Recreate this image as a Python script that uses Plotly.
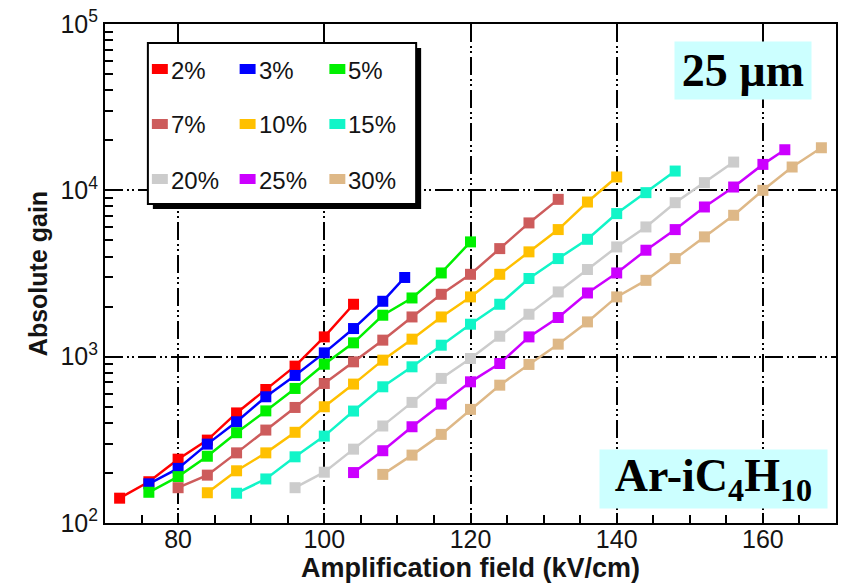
import plotly.graph_objects as go

# ---- data: absolute gain vs amplification field, Ar-iC4H10 mixtures, 25 um gap ----
labels = ["2%", "3%", "5%", "7%", "10%", "15%", "20%", "25%", "30%"]
colors = ["#ff0000", "#0000ff", "#00f000", "#cd5c5c", "#ffc000",
          "#11f5c8", "#cccccc", "#cc00ff", "#deb887"]

field_2 = [72, 76, 80, 84, 88, 92, 96, 100, 104]
gain_2 = [141, 177, 242, 315, 459, 635, 877, 1315, 2065]

field_3 = [76, 80, 84, 88, 92, 96, 100, 104, 108, 111]
gain_3 = [172, 213, 298, 406, 574, 771, 1054, 1476, 2153, 2993]

field_5 = [76, 80, 84, 88, 92, 96, 100, 104, 108, 112, 116, 120]
gain_5 = [153, 190, 252, 349, 472, 644, 901, 1211, 1775, 2254, 3186, 4898]

field_7 = [80, 84, 88, 92, 96, 100, 104, 108, 112, 116, 120, 124, 128, 132]
gain_7 = [163, 194, 264, 362, 495, 690, 931, 1257, 1733, 2371, 3127, 4463, 6369, 8827]

field_10 = [84, 88, 92, 96, 100, 104, 108, 112, 116, 120, 124, 128, 132, 136, 140]
gain_10 = [152, 206, 264, 351, 500, 684, 953, 1274, 1733, 2287, 3127, 4267, 5808, 8505, 12030]

field_15 = [88, 92, 96, 100, 104, 108, 112, 116, 120, 124, 128, 132, 136, 140, 144, 148]
gain_15 = [151, 184, 250, 333, 471, 659, 869, 1172, 1567, 2066, 2950, 3888, 5078, 7246, 9684, 13060]

field_20 = [96, 100, 104, 108, 112, 116, 120, 124, 128, 132, 136, 140, 144, 148, 152, 156]
gain_20 = [163, 202, 278, 383, 531, 740, 975, 1327, 1799, 2450, 3341, 4568, 6025, 8429, 11120, 14790]

field_25 = [104, 108, 112, 116, 120, 124, 128, 132, 136, 140, 144, 148, 152, 156, 160, 163]
gain_25 = [201, 272, 379, 519, 706, 910, 1315, 1719, 2415, 3186, 4365, 5807, 7942, 10470, 14320, 17540]

field_30 = [108, 112, 116, 120, 124, 128, 132, 136, 140, 144, 148, 152, 156, 160, 164, 168]
gain_30 = [196, 256, 341, 482, 674, 898, 1189, 1618, 2287, 2877, 3888, 5250, 7080, 10000, 13810, 18030]

fields = [field_2, field_3, field_5, field_7, field_10, field_15, field_20, field_25, field_30]
gains = [gain_2, gain_3, gain_5, gain_7, gain_10, gain_15, gain_20, gain_25, gain_30]

x_ticks = [80, 100, 120, 140, 160]
y_ticks = [100, 1000, 10000, 100000]
y_ticktext = ["10<sup>2</sup>", "10<sup>3</sup>", "10<sup>4</sup>", "10<sup>5</sup>"]

# ---- page geometry (pixels) ----
W, H = 841, 587
ML, MR, MT, MB = 105, 3, 24, 64
PW, PH = W - ML - MR, H - MT - MB


def px(x):
    return (x - ML) / PW


def py(y):
    return (H - MB - y) / PH


SANS = "Liberation Sans, Arial, sans-serif"
SERIF = "Liberation Serif, Times New Roman, serif"
INK = "#141414"
GRID_DASH = "18px,4px,2px,3px,2px,4px"

fig = go.Figure()
for name, color, xs, ys in zip(labels, colors, fields, gains):
    fig.add_trace(go.Scatter(
        x=xs, y=ys, name=name, mode="lines+markers",
        line=dict(color=color, width=2.5),
        marker=dict(symbol="square", size=11, color=color),
        showlegend=False,
    ))

shapes = []
annotations = []

# legend panel with drop shadow, three entries per row
lx0, ly0, lx1, ly1 = 148, 43, 417, 204
shapes.append(dict(type="rect", xref="paper", yref="paper",
                   x0=px(lx0 + 5), x1=px(lx1 + 5), y0=py(ly1 + 5), y1=py(ly0 + 5),
                   fillcolor="black", line=dict(width=0), layer="above"))
shapes.append(dict(type="rect", xref="paper", yref="paper",
                   x0=px(lx0), x1=px(lx1), y0=py(ly1), y1=py(ly0),
                   fillcolor="white", line=dict(color="black", width=2), layer="above"))
col_x = [152, 240, 330]
row_y = [69, 124, 179]
for i, (name, color) in enumerate(zip(labels, colors)):
    cx = col_x[i % 3]
    cy = row_y[i // 3]
    shapes.append(dict(type="rect", xref="paper", yref="paper",
                       x0=px(cx), x1=px(cx + 16), y0=py(cy + 5), y1=py(cy - 5),
                       fillcolor=color, line=dict(width=0), layer="above"))
    annotations.append(dict(text=name, x=px(cx + 17), y=py(cy + 1), xref="paper", yref="paper",
                            xanchor="left", yanchor="middle", showarrow=False,
                            font=dict(family=SANS, size=24, color=INK)))

# labelled boxes
annotations.append(dict(text="<b>25 µm</b>", x=px(745), y=py(70.5), xref="paper", yref="paper",
                        xanchor="center", yanchor="middle", showarrow=False,
                        width=136, height=57, borderpad=0, bgcolor="#ccffff",
                        font=dict(family=SERIF, size=46, color="black")))
annotations.append(dict(text="<b>Ar-iC<sub>4</sub>H<sub>10</sub></b>", x=px(715.5), y=py(479),
                        xref="paper", yref="paper",
                        xanchor="center", yanchor="middle", showarrow=False,
                        width=227, height=58, borderpad=0, bgcolor="#ccffff",
                        font=dict(family=SERIF, size=46, color="black")))

fig.update_layout(
    width=W, height=H,
    margin=dict(l=ML, r=MR, t=MT, b=MB),
    paper_bgcolor="white", plot_bgcolor="white",
    shapes=shapes, annotations=annotations,
    font=dict(family=SANS, color=INK),
)

fig.update_xaxes(
    range=[70, 170], tickvals=x_ticks,
    ticks="inside", ticklen=8, tickwidth=2, tickcolor="black",
    tickfont=dict(family=SANS, size=25, color=INK),
    ticklabelstandoff=-7,
    showline=True, linecolor="black", linewidth=2, mirror=True,
    showgrid=True, gridcolor="black", gridwidth=2, griddash=GRID_DASH,
    zeroline=False,
    minor=dict(dtick=5, tick0=70, ticks="inside", ticklen=8, tickwidth=1.5,
               tickcolor="black", showgrid=False),
    title=dict(text="<b>Amplification field (kV/cm)</b>", standoff=0,
               font=dict(family=SANS, size=27, color=INK)),
)

y_minor = [m * 10 ** e for e in (2, 3, 4) for m in range(2, 10)]
fig.update_yaxes(
    type="log", range=[2, 5],
    tickmode="array", tickvals=y_ticks, ticktext=y_ticktext,
    ticks="inside", ticklen=14, tickwidth=2, tickcolor="black",
    tickfont=dict(family=SANS, size=25, color=INK),
    showline=True, linecolor="black", linewidth=2, mirror=True,
    showgrid=True, gridcolor="black", gridwidth=2, griddash=GRID_DASH,
    zeroline=False,
    minor=dict(tickmode="array", tickvals=y_minor, ticks="inside", ticklen=8,
               tickwidth=1.5, tickcolor="black", showgrid=False),
    title=dict(text="<b>Absolute gain</b>", standoff=6,
               font=dict(family=SANS, size=25, color=INK)),
)

fig.write_html("out.html")
